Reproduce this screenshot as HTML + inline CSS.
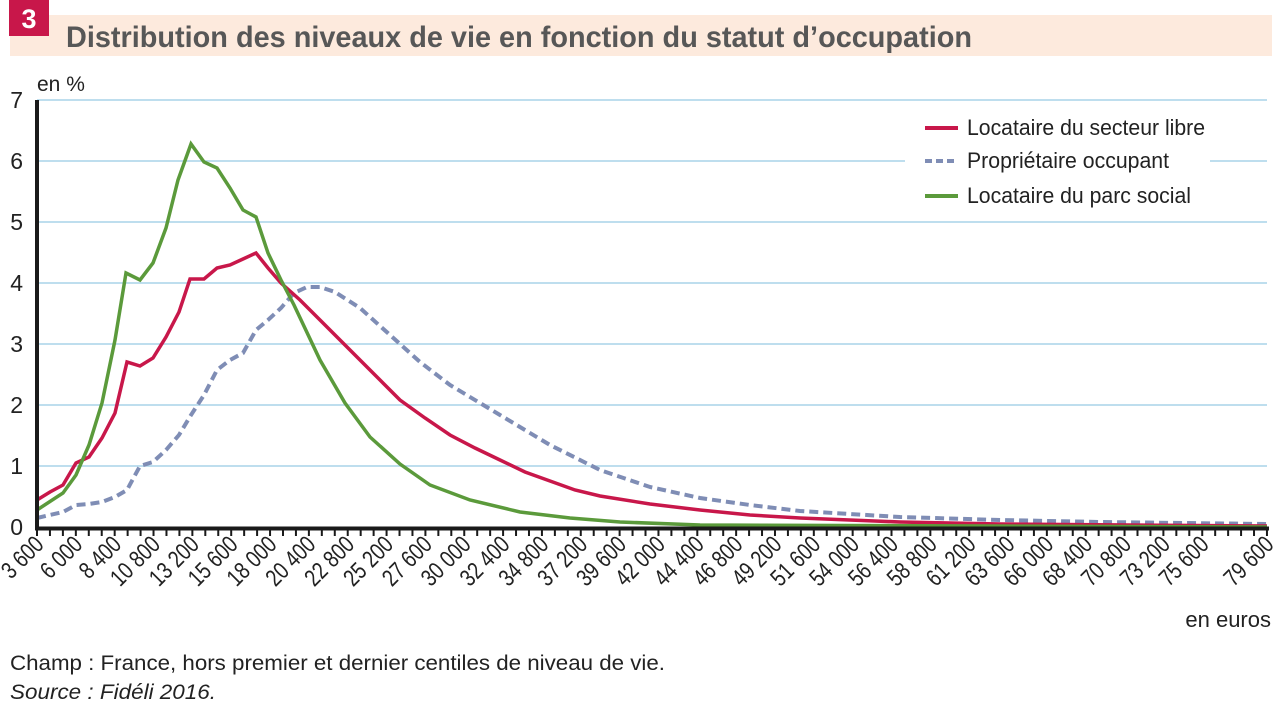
<!DOCTYPE html>
<html><head><meta charset="utf-8"><style>
html,body{margin:0;padding:0;background:#fff;}
svg{display:block;font-family:"Liberation Sans",sans-serif;}
</style></head><body>
<svg width="1281" height="708" viewBox="0 0 1281 708">
<rect x="10" y="15" width="1262" height="41" fill="#fdeadd"/>
<rect x="9" y="0" width="40" height="36" fill="#c8174a"/>
<text x="29" y="28" font-size="27" font-weight="bold" fill="#fff" text-anchor="middle">3</text>
<text x="66" y="47" font-size="30" font-weight="bold" fill="#575757" textLength="906" lengthAdjust="spacingAndGlyphs">Distribution des niveaux de vie en fonction du statut d’occupation</text>
<g stroke="#a9d3e8" stroke-width="1.5">
<line x1="37" x2="1267" y1="100" y2="100"/><line x1="37" x2="1267" y1="161" y2="161"/>
<line x1="37" x2="1267" y1="222" y2="222"/><line x1="37" x2="1267" y1="283" y2="283"/>
<line x1="37" x2="1267" y1="344" y2="344"/><line x1="37" x2="1267" y1="405" y2="405"/>
<line x1="37" x2="1267" y1="466" y2="466"/>
</g>
<g font-size="23" fill="#222" text-anchor="end">
<text x="23" y="108">7</text><text x="23" y="169">6</text><text x="23" y="230">5</text><text x="23" y="291">4</text><text x="23" y="352">3</text><text x="23" y="413">2</text><text x="23" y="474">1</text><text x="23" y="535">0</text>
</g>
<text x="37" y="91" font-size="21" fill="#222">en %</text>
<rect x="905" y="108" width="305" height="104" fill="#fff"/>
<line x1="925" x2="958" y1="128" y2="128" stroke="#c8174a" stroke-width="4"/>
<line x1="925" x2="958" y1="161" y2="161" stroke="#7f8db5" stroke-width="4" stroke-dasharray="7 4"/>
<line x1="925" x2="958" y1="196" y2="196" stroke="#5b9a3b" stroke-width="4"/>
<g font-size="22" fill="#222">
<text x="967" y="135" textLength="238" lengthAdjust="spacingAndGlyphs">Locataire du secteur libre</text>
<text x="967" y="168" textLength="202" lengthAdjust="spacingAndGlyphs">Propriétaire occupant</text>
<text x="967" y="203" textLength="224" lengthAdjust="spacingAndGlyphs">Locataire du parc social</text>
</g>
<polyline fill="none" stroke="#7f8db5" stroke-width="4" stroke-dasharray="9 5" points="37,518 50,515 63,512 76,505 89,504 102,502 115,497 127,490 140,466 153,462 166,450 179,435 191,415 204,395 217,370 230,360 243,353 256,330 268,320 281,308 294,293 307,287 320,287 335,292 360,308 390,335 420,362 450,385 500,415 550,445 600,470 650,487 700,498 750,505 800,511 900,517 1000,520 1100,522 1267,524"/>
<polyline fill="none" stroke="#c8174a" stroke-width="3.5" points="37,500 50,492 63,485 76,463 89,457 102,438 115,413 127,362 140,366 153,358 166,337 179,312 190,279 204,279 217,268 230,265 243,259 256,253 268,268 281,283 300,300 320,320 340,340 370,370 400,400 425,418 450,435 475,448 500,460 525,472 550,481 575,490 600,496 650,504 700,510 750,515 800,518 900,522 1000,524 1267,526"/>
<polyline fill="none" stroke="#5b9a3b" stroke-width="3.5" points="37,510 63,493 76,475 89,445 102,403 115,340 126,273 140,280 153,263 166,228 178,180 191,144 204,162 217,168 230,188 243,210 256,217 268,253 281,280 294,305 320,360 345,403 370,437 400,464 430,485 470,500 520,512 570,518 620,522 700,525 1267,527"/>
<line x1="37" x2="37" y1="100" y2="530" stroke="#1a1a1a" stroke-width="4"/>
<line x1="35" x2="1269" y1="528.5" y2="528.5" stroke="#1a1a1a" stroke-width="4"/>
<line x1="36" x2="1269" y1="533" y2="533" stroke="#1a1a1a" stroke-width="6" stroke-dasharray="2 10.947"/>
<g font-size="24" fill="#222" text-anchor="end">
<text transform="translate(45,546) rotate(-45) scale(0.8,1)">3 600</text>
<text transform="translate(83.8,546) rotate(-45) scale(0.8,1)">6 000</text>
<text transform="translate(122.7,546) rotate(-45) scale(0.8,1)">8 400</text>
<text transform="translate(161.5,546) rotate(-45) scale(0.8,1)">10 800</text>
<text transform="translate(200.4,546) rotate(-45) scale(0.8,1)">13 200</text>
<text transform="translate(239.2,546) rotate(-45) scale(0.8,1)">15 600</text>
<text transform="translate(278,546) rotate(-45) scale(0.8,1)">18 000</text>
<text transform="translate(316.9,546) rotate(-45) scale(0.8,1)">20 400</text>
<text transform="translate(355.7,546) rotate(-45) scale(0.8,1)">22 800</text>
<text transform="translate(394.6,546) rotate(-45) scale(0.8,1)">25 200</text>
<text transform="translate(433.4,546) rotate(-45) scale(0.8,1)">27 600</text>
<text transform="translate(472.2,546) rotate(-45) scale(0.8,1)">30 000</text>
<text transform="translate(511.1,546) rotate(-45) scale(0.8,1)">32 400</text>
<text transform="translate(549.9,546) rotate(-45) scale(0.8,1)">34 800</text>
<text transform="translate(588.8,546) rotate(-45) scale(0.8,1)">37 200</text>
<text transform="translate(627.6,546) rotate(-45) scale(0.8,1)">39 600</text>
<text transform="translate(666.4,546) rotate(-45) scale(0.8,1)">42 000</text>
<text transform="translate(705.3,546) rotate(-45) scale(0.8,1)">44 400</text>
<text transform="translate(744.1,546) rotate(-45) scale(0.8,1)">46 800</text>
<text transform="translate(783,546) rotate(-45) scale(0.8,1)">49 200</text>
<text transform="translate(821.8,546) rotate(-45) scale(0.8,1)">51 600</text>
<text transform="translate(860.6,546) rotate(-45) scale(0.8,1)">54 000</text>
<text transform="translate(899.5,546) rotate(-45) scale(0.8,1)">56 400</text>
<text transform="translate(938.3,546) rotate(-45) scale(0.8,1)">58 800</text>
<text transform="translate(977.2,546) rotate(-45) scale(0.8,1)">61 200</text>
<text transform="translate(1016,546) rotate(-45) scale(0.8,1)">63 600</text>
<text transform="translate(1054.8,546) rotate(-45) scale(0.8,1)">66 000</text>
<text transform="translate(1093.7,546) rotate(-45) scale(0.8,1)">68 400</text>
<text transform="translate(1132.5,546) rotate(-45) scale(0.8,1)">70 800</text>
<text transform="translate(1171.4,546) rotate(-45) scale(0.8,1)">73 200</text>
<text transform="translate(1210.2,546) rotate(-45) scale(0.8,1)">75 600</text>
<text transform="translate(1275,546) rotate(-45) scale(0.8,1)">79 600</text>
</g>
<text x="1271" y="627" font-size="22" fill="#222" text-anchor="end">en euros</text>
<text x="10" y="670" font-size="21" fill="#222" textLength="655" lengthAdjust="spacingAndGlyphs">Champ : France, hors premier et dernier centiles de niveau de vie.</text>
<text x="10" y="699" font-size="21" font-style="italic" fill="#222" textLength="206" lengthAdjust="spacingAndGlyphs">Source : Fidéli 2016.</text>
</svg>
</body></html>
